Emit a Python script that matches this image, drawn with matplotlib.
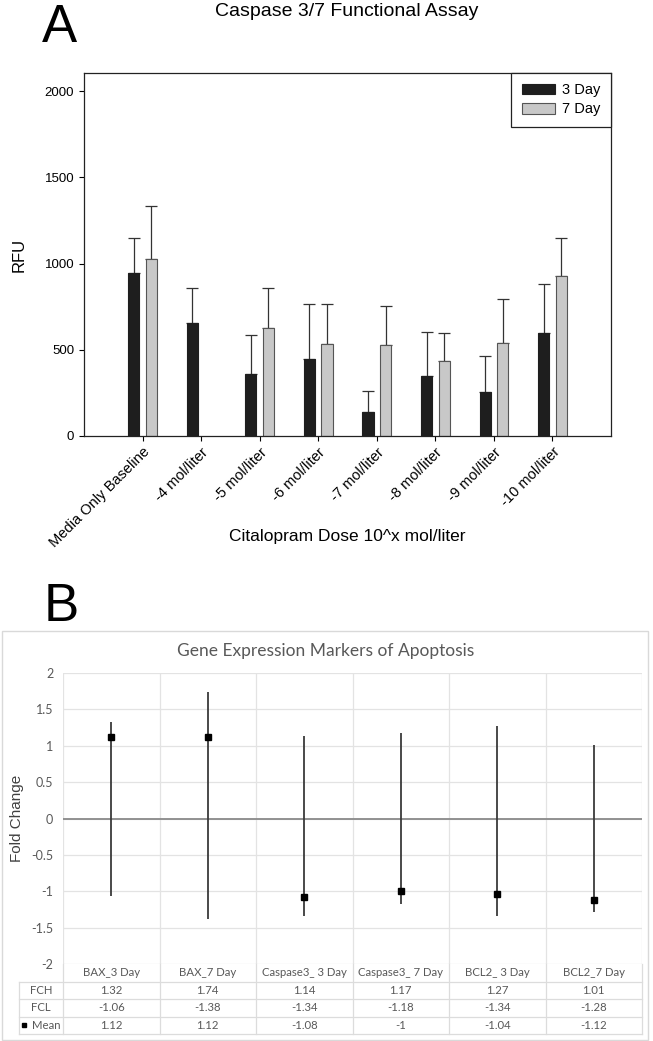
import numpy as np
import matplotlib.pyplot as plt
from matplotlib.patches import Rectangle
from matplotlib.transforms import blended_transform_factory

# panel A: caspase 3/7 functional assay
doses = ["Media Only Baseline", "-4 mol/liter", "-5 mol/liter", "-6 mol/liter",
         "-7 mol/liter", "-8 mol/liter", "-9 mol/liter", "-10 mol/liter"]
rfu_3day = [946, 655, 357, 444, 139, 346, 253, 599]
err_3day = [200, 201, 228, 321, 122, 259, 211, 280]
rfu_7day = [1028, np.nan, 626, 531, 526, 433, 539, 926]
err_7day = [307, np.nan, 230, 234, 230, 166, 255, 220]

# panel B: gene expression markers
genes = ["BAX_3 Day", "BAX_7 Day", "Caspase3_ 3 Day", "Caspase3_ 7 Day",
         "BCL2_ 3 Day", "BCL2_7 Day"]
fch = [1.32, 1.74, 1.14, 1.17, 1.27, 1.01]
fcl = [-1.06, -1.38, -1.34, -1.18, -1.34, -1.28]
fc_mean = [1.12, 1.12, -1.08, -1, -1.04, -1.12]

W, H = 653, 1041
fig = plt.figure(figsize=(W / 100, H / 100), dpi=100)
plt.rcParams["font.family"] = ["Liberation Sans", "DejaVu Sans"]


def fx(px):
    return px / W


def fy(py):
    return 1 - py / H


# ---------------- panel A ----------------
axA = fig.add_axes([fx(84), fy(436), fx(611) - fx(84), fy(73) - fy(436)])
x = np.arange(len(doses))
bw = 0.19
off = 0.15
axA.bar(x - off, rfu_3day, bw, color="#1e1e1e", edgecolor="#1e1e1e", linewidth=0.8,
        label="3 Day", zorder=2)
axA.bar(x + off, rfu_7day, bw, color="#c8c8c8", edgecolor="#555555", linewidth=0.8,
        label="7 Day", zorder=2)
axA.errorbar(x - off, rfu_3day, yerr=[np.zeros(len(x)), err_3day], fmt="none",
             ecolor="#333333", elinewidth=0.9, capsize=4, capthick=0.9, zorder=1)
axA.errorbar(x + off, rfu_7day, yerr=[np.zeros(len(x)), err_7day], fmt="none",
             ecolor="#333333", elinewidth=0.9, capsize=4, capthick=0.9, zorder=1)
axA.set_xlim(-1, len(doses))
axA.set_ylim(0, 2105)
axA.set_yticks([0, 500, 1000, 1500, 2000])
axA.set_xticks(x)
axA.set_xticklabels(doses, rotation=45, ha="right", rotation_mode="anchor", fontsize=10.5)
axA.tick_params(axis="y", labelsize=9.5, length=3.5, width=0.8)
axA.tick_params(axis="x", length=3.5, width=0.8, pad=3)
for s in axA.spines.values():
    s.set_linewidth(0.9)
    s.set_color("#222222")
axA.set_ylabel("RFU", fontsize=12, labelpad=13)
fig.text(fx(347), fy(537), "Citalopram Dose 10^x mol/liter", fontsize=12.5,
         ha="center", va="center")
fig.text(fx(347), fy(12), "Caspase 3/7 Functional Assay", fontsize=14,
         ha="center", va="center")
fig.text(fx(59), fy(28), "A", fontsize=38, ha="center", va="center")
leg = axA.legend(loc="upper right", borderaxespad=0, fancybox=False, edgecolor="#222222",
                 framealpha=1, fontsize=10.5, handlelength=2.3, handleheight=0.75,
                 labelspacing=0.35, borderpad=0.7, handletextpad=0.5)
leg.get_frame().set_linewidth(0.9)

# ---------------- panel B ----------------
fig.add_artist(Rectangle((fx(2), fy(1040)), fx(648) - fx(2), fy(631) - fy(1040),
                         transform=fig.transFigure, fill=False,
                         edgecolor="#d9d9d9", linewidth=1))
fig.text(fx(61), fy(607), "B", fontsize=38, ha="center", va="center")

gray = "#595959"
bfont = ["Lato", "DejaVu Sans"]
axB = fig.add_axes([fx(63), fy(964), fx(642) - fx(63), fy(673) - fy(964)])
xb = np.arange(len(genes))
axB.set_xlim(-0.5, len(genes) - 0.5)
axB.set_ylim(-2, 2)
axB.set_yticks(np.arange(-2, 2.01, 0.5))
axB.set_yticklabels([f"{v:g}" for v in np.arange(-2, 2.01, 0.5)], fontfamily=bfont)
axB.set_xticks(np.arange(len(genes) + 1) - 0.5)
axB.set_xticklabels([])
axB.tick_params(length=0, labelsize=9, labelcolor=gray, pad=7)
axB.grid(True, color="#e3e3e3", linewidth=0.9)
axB.set_axisbelow(True)
for s in axB.spines.values():
    s.set_visible(False)
axB.axhline(0, color="#8a8a8a", linewidth=1.3, zorder=1)
axB.vlines(xb, fcl, fch, color="#3a3a3a", linewidth=1.3, zorder=2)
axB.plot(xb, fc_mean, "s", color="black", markersize=4, zorder=3)
fig.text(fx(326), fy(651), "Gene Expression Markers of Apoptosis", fontsize=12.5,
         color=gray, ha="center", va="center", fontfamily=bfont)
fig.text(fx(17), fy(818), "Fold Change", rotation=90, fontsize=11, color="#404040",
         ha="center", va="center")

# data table under the plot
tr = blended_transform_factory(axB.transData, axB.transAxes)
rh = 17.5 / (964 - 673)
rows = [("FCH", fch), ("FCL", fcl), ("Mean", fc_mean)]
left = -0.5 - 44 / 96.5
right = len(genes) - 0.5
lc = "#dcdcdc"
tfs = 8.2
for j, g in enumerate(genes):
    axB.text(j, -0.5 * rh, g, transform=tr, ha="center", va="center", fontsize=tfs,
             color=gray, fontfamily=bfont, clip_on=False)
for i, (name, vals) in enumerate(rows):
    yc = -(i + 1.5) * rh
    xl = (left - 0.5) / 2 + (0.05 if name == "Mean" else 0)
    axB.text(xl, yc, name, transform=tr, ha="center", va="center",
             fontsize=tfs, color=gray, fontfamily=bfont, clip_on=False)
    for j, v in enumerate(vals):
        axB.text(j, yc, f"{v:g}", transform=tr, ha="center", va="center", fontsize=tfs,
                 color=gray, fontfamily=bfont, clip_on=False)
# marker key in the Mean row label
axB.plot([left + 0.05], [-3.5 * rh], "s", color="black", markersize=3.2, transform=tr,
         clip_on=False)
# table rules
for i in range(1, 5):
    axB.plot([left, right], [-i * rh, -i * rh], color=lc, linewidth=0.9, transform=tr,
             clip_on=False)
for xv in [left] + list(np.arange(len(genes) + 1) - 0.5):
    top = 0 if xv > left else -rh
    axB.plot([xv, xv], [top, -4 * rh], color=lc, linewidth=0.9, transform=tr,
             clip_on=False)

fig.savefig("out.png", dpi=100)
